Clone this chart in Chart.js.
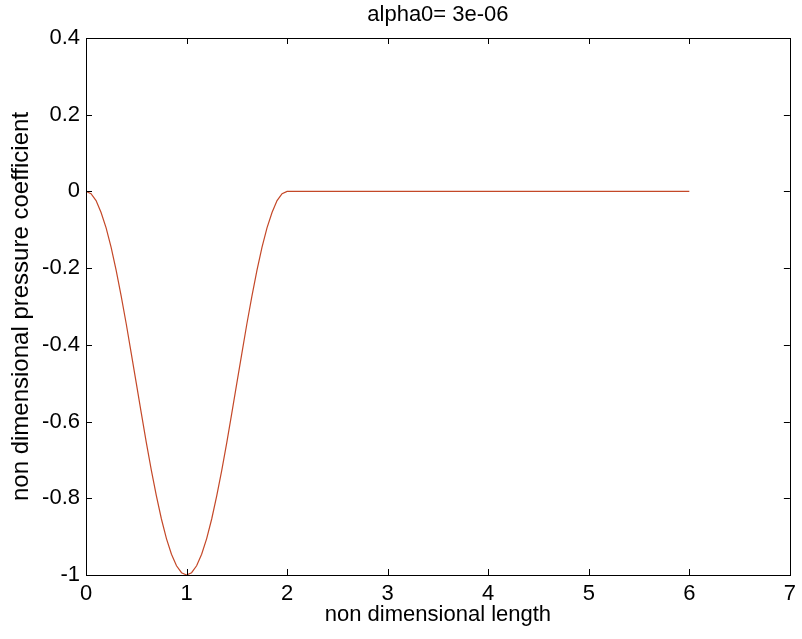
<!DOCTYPE html>
<html>
<head>
<meta charset="utf-8">
<title>alpha0= 3e-06</title>
<script src="https://cdn.jsdelivr.net/npm/chart.js@4.4.1/dist/chart.umd.min.js"></script>
<style>
  body { margin: 0; background: #fff; }
  canvas { display: block; }
</style>
</head>
<body>
<canvas id="myChart" width="802" height="639"></canvas>
<script>
// values
const lengthX = [0, 0.05, 0.1, 0.15, 0.2, 0.25, 0.3, 0.35, 0.4, 0.45, 0.5,
  0.55, 0.6, 0.65, 0.7, 0.75, 0.8, 0.85, 0.9, 0.95, 1,
  1.05, 1.1, 1.15, 1.2, 1.25, 1.3, 1.35, 1.4, 1.45, 1.5,
  1.55, 1.6, 1.65, 1.7, 1.75, 1.8, 1.85, 1.9, 1.95, 2,
  3, 4, 5, 6];
const pressureCoef = [0, -0.006, -0.024, -0.055, -0.095, -0.146, -0.206, -0.273, -0.345, -0.422, -0.5,
  -0.578, -0.655, -0.727, -0.794, -0.854, -0.905, -0.946, -0.976, -0.994, -1,
  -0.994, -0.976, -0.946, -0.905, -0.854, -0.794, -0.727, -0.655, -0.578, -0.5,
  -0.422, -0.345, -0.273, -0.206, -0.146, -0.095, -0.055, -0.024, -0.006, 0,
  0, 0, 0, 0];
const xTicks = [0, 1, 2, 3, 4, 5, 6, 7];
const yTicks = [-1, -0.8, -0.6, -0.4, -0.2, 0, 0.2, 0.4];

const fontName = "'Liberation Sans', Arial, sans-serif";

// MATLAB style box with ticks pointing inward
const boxPlugin = {
  id: 'box',
  afterDraw(chart) {
    const ctx = chart.ctx;
    const a = chart.chartArea;
    const xs = chart.scales.x;
    const ys = chart.scales.y;
    const len = 6;
    ctx.save();
    ctx.strokeStyle = '#000';
    ctx.lineWidth = 1;
    ctx.strokeRect(Math.round(a.left) + 0.5, Math.round(a.top) + 0.5,
      Math.round(a.right - a.left), Math.round(a.bottom - a.top));
    ctx.beginPath();
    xs.ticks.forEach(t => {
      const px = Math.round(xs.getPixelForValue(t.value)) + 0.5;
      ctx.moveTo(px, a.bottom); ctx.lineTo(px, a.bottom - len);
      ctx.moveTo(px, a.top); ctx.lineTo(px, a.top + len);
    });
    ys.ticks.forEach(t => {
      const py = Math.round(ys.getPixelForValue(t.value)) + 0.5;
      ctx.moveTo(a.left, py); ctx.lineTo(a.left + len, py);
      ctx.moveTo(a.right, py); ctx.lineTo(a.right - len, py);
    });
    ctx.stroke();
    ctx.restore();
  }
};

const ctx = document.getElementById("myChart").getContext("2d");
new Chart(ctx, {
  type: 'line',
  data: {
    datasets: [{
      data: lengthX.map((x, i) => ({ x: x, y: pressureCoef[i] })),
      borderColor: 'rgb(196, 72, 40)',
      borderWidth: 1.2,
      pointRadius: 0,
      tension: 0,
      fill: false
    }]
  },
  options: {
    responsive: false,
    animation: false,
    layout: { padding: { left: 0, right: 6, top: 0, bottom: 0 } },
    plugins: {
      legend: { display: false },
      tooltip: { enabled: false },
      title: {
        display: true,
        fullSize: false,
        text: 'alpha0= 3e-06',
        color: '#000',
        font: { family: fontName, size: 22, weight: 'normal' },
        padding: { top: 2, bottom: 9.6 }
      }
    },
    scales: {
      x: {
        type: 'linear',
        min: 0,
        max: 7,
        afterBuildTicks: s => { s.ticks = xTicks.map(v => ({ value: v })); },
        afterFit: s => { s.height = 64; },
        grid: { display: false, drawTicks: false },
        border: { display: false },
        ticks: {
          color: '#000',
          padding: 6,
          maxRotation: 0,
          font: { family: fontName, size: 22 },
          callback: v => String(v)
        },
        title: {
          display: true,
          text: 'non dimensional length',
          color: '#000',
          font: { family: fontName, size: 22 },
          padding: { top: 0, bottom: 11 }
        }
      },
      y: {
        min: -1,
        max: 0.4,
        afterBuildTicks: s => { s.ticks = yTicks.map(v => ({ value: v })); },
        afterFit: s => { s.width = 86; },
        grid: { display: false, drawTicks: false },
        border: { display: false },
        ticks: {
          color: '#000',
          padding: 6,
          font: { family: fontName, size: 22 },
          callback: v => String(Math.round(v * 10) / 10)
        },
        title: {
          display: true,
          text: 'non dimensional pressure coefficient',
          color: '#000',
          font: { family: fontName, size: 24 },
          padding: { top: 7, bottom: 0 }
        }
      }
    }
  },
  plugins: [boxPlugin]
});
</script>
</body>
</html>
